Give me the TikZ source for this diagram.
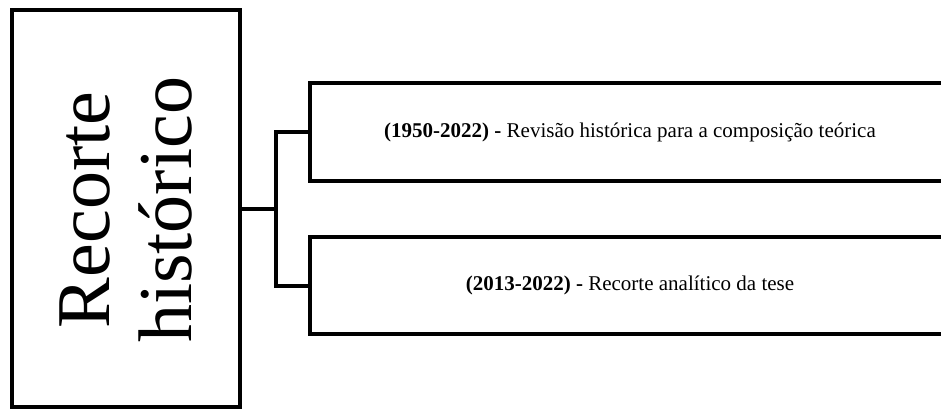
\documentclass[tikz,border=0pt]{standalone}
\usepackage{fontspec}
\setmainfont{Liberation Serif}
\begin{document}
\begin{tikzpicture}[x=1pt,y=-1pt,
  frame/.style={draw=black, line width=4pt, rectangle, inner sep=0pt},
  conn/.style={draw=black, line width=4pt},
  small/.style={font=\fontsize{21}{25}\selectfont}]
\useasboundingbox (0,0) rectangle (941,409);
\clip (0,0) rectangle (941,409);
\node[frame, minimum width=228pt, minimum height=397pt] (left) at (126,208.5) {};
\node[rotate=90, align=center, font=\fontsize{76}{82}\selectfont] (title) at (126,210) {Recorte\\histórico};
\node[frame, minimum width=640pt, minimum height=98pt] (box1) at (630,132) {};
\node[small] (t1) at (630,132) {\textbf{(1950-2022) -} Revisão histórica para a composição teórica};
\node[frame, minimum width=640pt, minimum height=97pt] (box2) at (630,285.5) {};
\node[small] (t2) at (630,285.5) {\textbf{(2013-2022) -} Recorte analítico da tese};
\coordinate (j) at (276,208.5);
\draw[conn] (left.east) -- (j);
\draw[conn] (box1.west) -| (j) |- (box2.west);
\end{tikzpicture}
\end{document}
